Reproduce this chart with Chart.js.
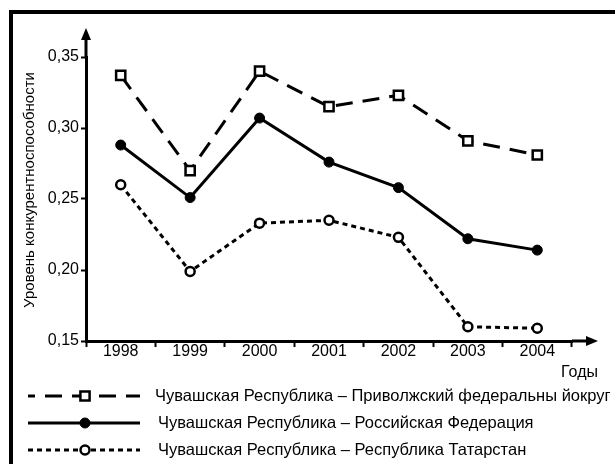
<!DOCTYPE html>
<html>
<head>
<meta charset="utf-8">
<script src="https://cdn.jsdelivr.net/npm/chart.js@4.4.0/dist/chart.umd.min.js"></script>
<style>
    body { margin: 0; background: #ffffff; }
    canvas { display: block; }
</style>
</head>
<body>
<canvas id="chartCompetit" width="615" height="464"></canvas>
<script>
const years = ['1998', '1999', '2000', '2001', '2002', '2003', '2004'];
const volgaValues = [0.337, 0.27, 0.34, 0.315, 0.323, 0.291, 0.281];
const russiaValues = [0.288, 0.251, 0.307, 0.276, 0.258, 0.222, 0.214];
const tatarValues = [0.26, 0.199, 0.233, 0.235, 0.223, 0.16, 0.159];
const yTicks = [0.15, 0.20, 0.25, 0.30, 0.35];
const seriesNames = [
    'Чувашская Республика – Приволжский федеральны йокруг',
    'Чувашская Республика – Российская Федерация',
    'Чувашская Республика – Республика Татарстан'
];
const yTitle = 'Уровень конкурентноспособности';
const xTitle = 'Годы';

const fontName = '"Liberation Sans", Arial, sans-serif';

// arrows, frame, legend, axis titles
const decorPlugin = {
    id: 'decor',
    afterDraw(chart) {
        const ctx = chart.ctx;
        const area = chart.chartArea;
        ctx.save();
        ctx.fillStyle = '#000';
        ctx.strokeStyle = '#000';

        // frame
        ctx.fillRect(9, 10, 4, 454);
        ctx.fillRect(9, 10, 606, 4);

        // axis extensions with arrows
        ctx.lineWidth = 3;
        ctx.beginPath();
        ctx.moveTo(area.left, area.top);
        ctx.lineTo(area.left, 36);
        ctx.moveTo(area.right, area.bottom);
        ctx.lineTo(590, area.bottom);
        ctx.stroke();
        ctx.beginPath();
        ctx.moveTo(area.left, 28);
        ctx.lineTo(area.left - 5, 40);
        ctx.lineTo(area.left + 5, 40);
        ctx.closePath();
        ctx.fill();
        ctx.beginPath();
        ctx.moveTo(598, area.bottom);
        ctx.lineTo(586, area.bottom - 5);
        ctx.lineTo(586, area.bottom + 5);
        ctx.closePath();
        ctx.fill();

        // axis titles
        ctx.font = '15px ' + fontName;
        ctx.textAlign = 'center';
        ctx.textBaseline = 'middle';
        ctx.save();
        ctx.translate(30, 190);
        ctx.rotate(-Math.PI / 2);
        ctx.fillText(yTitle, 0, 0);
        ctx.restore();
        ctx.font = '16px ' + fontName;
        ctx.textAlign = 'right';
        ctx.fillText(xTitle, 598, 373);

        // legend
        const rows = [396, 423, 450];
        chart.data.datasets.forEach((ds, i) => {
            const y = rows[i];
            ctx.save();
            ctx.lineWidth = 3;
            ctx.setLineDash(ds.borderDash || []);
            ctx.lineDashOffset = i === 0 ? 10 : 0;
            ctx.beginPath();
            ctx.moveTo(28, y);
            ctx.lineTo(140, y);
            ctx.stroke();
            ctx.restore();
            ctx.save();
            ctx.fillStyle = ds.pointBackgroundColor;
            ctx.strokeStyle = '#000';
            ctx.lineWidth = ds.pointBorderWidth;
            ctx.beginPath();
            if (ds.pointStyle === 'rect') {
                const s = ds.pointRadius * Math.SQRT1_2;
                ctx.rect(85 - s, y - s, 2 * s, 2 * s);
            } else {
                ctx.arc(85, y, ds.pointRadius, 0, Math.PI * 2);
            }
            ctx.fill();
            ctx.stroke();
            ctx.restore();
            ctx.font = '16.5px ' + fontName;
            ctx.textAlign = 'left';
            ctx.fillStyle = '#000';
            ctx.fillText(ds.label, i === 0 ? 155 : 158, y);
        });
        ctx.restore();
    }
};

const data = {
    labels: years,
    datasets: [{
        label: seriesNames[0],
        data: volgaValues,
        borderColor: '#000',
        borderWidth: 3,
        borderDash: [17, 10],
        pointStyle: 'rect',
        pointRadius: 6.5,
        pointBorderWidth: 2.5,
        pointBackgroundColor: '#fff',
        pointBorderColor: '#000'
    }, {
        label: seriesNames[1],
        data: russiaValues,
        borderColor: '#000',
        borderWidth: 3,
        pointStyle: 'circle',
        pointRadius: 5,
        pointBorderWidth: 1,
        pointBackgroundColor: '#000',
        pointBorderColor: '#000'
    }, {
        label: seriesNames[2],
        data: tatarValues,
        borderColor: '#000',
        borderWidth: 3,
        borderDash: [5, 4],
        pointStyle: 'circle',
        pointRadius: 4.5,
        pointBorderWidth: 2.5,
        pointBackgroundColor: '#fff',
        pointBorderColor: '#000'
    }]
};

const config = {
    type: 'line',
    data: data,
    options: {
        responsive: false,
        animation: false,
        layout: {
            padding: { top: 57, right: 43, left: 0, bottom: 0 }
        },
        plugins: {
            legend: { display: false },
            tooltip: { enabled: false }
        },
        scales: {
            x: {
                offset: true,
                afterFit(scale) { scale.height = 123; },
                grid: {
                    offset: true,
                    drawOnChartArea: false,
                    tickLength: 6,
                    tickWidth: 2,
                    tickColor: '#000'
                },
                border: { color: '#000', width: 3 },
                ticks: {
                    color: '#000',
                    padding: -5,
                    font: { family: fontName, size: 16 }
                }
            },
            y: {
                min: 0.15,
                max: 0.35,
                afterFit(scale) { scale.width = 86; },
                afterBuildTicks(scale) {
                    scale.ticks = yTicks.map(v => ({ value: v }));
                },
                grid: {
                    drawOnChartArea: false,
                    tickLength: 5,
                    tickWidth: 2,
                    tickColor: '#000'
                },
                border: { color: '#000', width: 3 },
                ticks: {
                    color: '#000',
                    padding: 2,
                    font: { family: fontName, size: 16 },
                    callback: v => v.toFixed(2).replace('.', ',')
                }
            }
        }
    },
    plugins: [decorPlugin]
};

var chartCompetit = new Chart(
    document.getElementById('chartCompetit'),
    config
);
</script>
</body>
</html>
